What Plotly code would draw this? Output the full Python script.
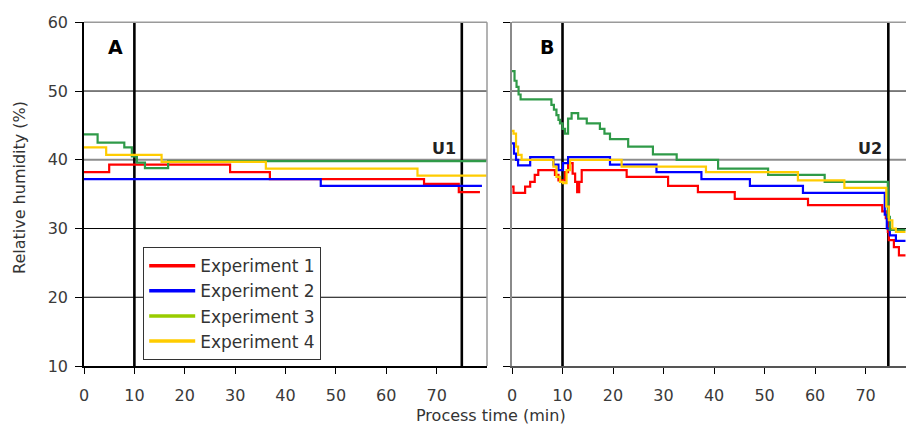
import plotly.graph_objects as go

# ---- data -------------------------------------------------------------
series_names = ["Experiment 1", "Experiment 2", "Experiment 3", "Experiment 4"]
line_colors = ["#ff0000", "#0000ff", "#2f9a48", "#ffcc00"]
legend_colors = ["#ff0000", "#0000ff", "#99cc00", "#ffcc00"]

# Panel A (process time in min, relative humidity in %)
a_t1 = [0, 5.0, 29.0, 36.9, 67.5, 74.4, 78.6]
a_v1 = [38.2, 39.3, 38.2, 37.2, 36.5, 35.3, 35.3]
a_t2 = [0, 47.0, 79.0]
a_v2 = [37.2, 36.2, 36.2]
a_t3 = [0, 2.7, 8.0, 9.5, 10.5, 12.1, 16.7, 79.9]
a_v3 = [43.7, 42.5, 41.8, 40.5, 39.6, 38.8, 39.8, 39.8]
a_t4 = [0, 4.4, 15.4, 36.1, 66.2, 79.9]
a_v4 = [41.8, 40.7, 39.7, 38.7, 37.7, 37.7]

# Panel B
b_t1 = [0, 0.3, 2.6, 3.6, 4.5, 5.2, 8.5, 9.2, 10.5, 11.1, 12.0, 12.5, 12.9,
        13.3, 13.8, 22.7, 30.9, 36.8, 44.1, 58.6, 73.3, 74.0, 74.4, 74.6,
        75.6, 76.6, 77.9]
b_v1 = [36.1, 35.2, 36.1, 36.8, 37.8, 38.5, 37.8, 37.0, 38.2, 39.5, 38.0,
        36.8, 35.3, 36.8, 38.5, 37.5, 36.2, 35.3, 34.3, 33.4, 32.5, 31.5,
        29.5, 28.3, 27.3, 26.1, 26.1]
b_t2 = [0, 0.4, 0.8, 1.2, 3.6, 8.2, 9.2, 10.1, 11.1, 19.4, 28.6, 37.5, 47.1,
        57.6, 73.8, 74.2, 74.8, 76.0, 77.9]
b_v2 = [42.4, 40.9, 40.0, 39.2, 40.4, 39.3, 38.5, 39.5, 40.4, 39.3, 38.2,
        37.2, 36.2, 35.2, 32.0, 30.0, 29.0, 28.2, 28.2]
b_t3 = [0, 0.5, 0.9, 1.3, 1.7, 7.8, 8.3, 8.8, 9.2, 9.5, 10.0, 10.5, 11.1,
        11.8, 13.1, 14.8, 17.4, 18.3, 19.4, 23.0, 27.9, 32.6, 40.8, 50.7,
        61.9, 74.4, 74.8, 75.6, 77.9]
b_v3 = [52.9, 51.5, 50.6, 49.5, 48.8, 48.0, 47.3, 46.5, 45.8, 45.3, 44.5,
        43.8, 46.0, 46.8, 46.0, 45.3, 44.5, 43.8, 43.0, 41.9, 40.8, 40.0,
        38.7, 37.8, 36.8, 31.7, 29.8, 29.8, 29.8]
b_t4 = [0, 0.3, 0.8, 1.2, 1.9, 8.2, 8.8, 9.5, 10.1, 10.8, 11.5, 21.7, 38.4,
        56.6, 65.8, 74.1, 74.6, 75.3, 76.0, 76.8, 77.9]
b_v4 = [44.2, 43.8, 41.9, 40.7, 40.0, 39.0, 37.5, 36.8, 36.6, 38.5, 40.0,
        39.0, 38.2, 37.0, 35.9, 33.2, 31.2, 30.0, 29.5, 29.5, 29.5]

x_ticks = [0, 10, 20, 30, 40, 50, 60, 70]
y_ticks = [10, 20, 30, 40, 50, 60]
a_markers = [10, 75]
b_markers = [10, 74.5]
limit_rh = 40
panel_labels = ["A", "B"]
limit_labels = ["U1", "U2"]

# ---- figure -----------------------------------------------------------
W, H = 906, 426
FONT = "DejaVu Sans"
TICK_COLOR = "#3a3a3a"

fig = go.Figure()

panel_a = [(a_t1, a_v1), (a_t2, a_v2), (a_t3, a_v3), (a_t4, a_v4)]
panel_b = [(b_t1, b_v1), (b_t2, b_v2), (b_t3, b_v3), (b_t4, b_v4)]

for i, (t, v) in enumerate(panel_a):
    fig.add_trace(go.Scatter(x=t, y=v, mode="lines", line_shape="hv",
                             line=dict(color=line_colors[i], width=2.2),
                             showlegend=False, xaxis="x", yaxis="y"))
for i, (t, v) in enumerate(panel_b):
    fig.add_trace(go.Scatter(x=t, y=v, mode="lines", line_shape="hv",
                             line=dict(color=line_colors[i], width=2.2),
                             showlegend=False, xaxis="x2", yaxis="y2"))
# legend entries
for name, col in zip(series_names, legend_colors):
    fig.add_trace(go.Scatter(x=[None], y=[None], mode="lines", name=name,
                             line=dict(color=col, width=3.5),
                             xaxis="x", yaxis="y"))

y_dom = [1 - 366 / H, 1 - 22.3 / H]
ax_common = dict(ticks="outside", tickcolor="black", ticklen=6, tickwidth=1,
                 tickfont=dict(family=FONT, size=16, color=TICK_COLOR),
                 ticklabelstandoff=8, automargin=False,
                 showgrid=False, zeroline=False, showline=True, linewidth=1.5,
                 tickvals=x_ticks, fixedrange=True)
ay_common = dict(ticks="outside", tickcolor="black", ticklen=7, tickwidth=1,
                 tickfont=dict(family=FONT, size=16, color=TICK_COLOR),
                 ticklabelstandoff=4, automargin=False,
                 showgrid=False, zeroline=False, showline=True, linewidth=1.5,
                 tickvals=y_ticks, range=[10, 60], domain=y_dom,
                 fixedrange=True)

fig.update_layout(
    width=W, height=H,
    margin=dict(l=0, r=0, t=0, b=0, pad=0, autoexpand=False),
    paper_bgcolor="white", plot_bgcolor="white",
    xaxis=dict(ax_common, domain=[84 / W, 487 / W], range=[0, 80],
               linecolor="black", anchor="y"),
    yaxis=dict(ay_common, linecolor="black", anchor="x"),
    xaxis2=dict(ax_common, domain=[512 / W, 1.0], range=[0, 78],
                linecolor="#555555", anchor="y2"),
    yaxis2=dict(ay_common, linecolor="#8a8a8a", showticklabels=False,
                anchor="x2"),
    legend=dict(x=143 / W, y=1 - 247 / H, xanchor="left", yanchor="top",
                bgcolor="white", bordercolor="#333333", borderwidth=1.2,
                font=dict(family=FONT, size=17, color="#333333"),
                itemwidth=46),
    showlegend=True,
)

shapes = []
for xr, yr, markers in (("x", "y", a_markers), ("x2", "y2", b_markers)):
    # horizontal grid: black lines, grey limit line at 40 % RH
    for yv in y_ticks[1:-1]:
        is_limit = yv == limit_rh
        shapes.append(dict(type="line", xref=f"{xr} domain", yref=yr,
                           x0=0, x1=1, y0=yv, y1=yv,
                           line=dict(color="#8c8c8c" if is_limit else "black",
                                     width=2 if is_limit else 1),
                           layer="below"))
    # grey frame on top
    shapes.append(dict(type="line", xref=f"{xr} domain", yref=f"{yr} domain",
                       x0=0, x1=1, y0=1, y1=1,
                       line=dict(color="#9a9a9a", width=1.5), layer="above"))
    # vertical process markers
    for m in markers:
        shapes.append(dict(type="line", xref=xr, yref=f"{yr} domain",
                           x0=m, x1=m, y0=0, y1=1,
                           line=dict(color="black", width=2.6),
                           layer="below"))
# right frame of panel A
shapes.append(dict(type="line", xref="x domain", yref="y domain",
                   x0=1, x1=1, y0=0, y1=1,
                   line=dict(color="#9a9a9a", width=1.5), layer="above"))
fig.update_layout(shapes=shapes)

annotations = [
    dict(text=f"<b>{panel_labels[0]}</b>", x=6.2, y=56.4, xref="x", yref="y",
         showarrow=False, font=dict(family=FONT, size=19, color="black")),
    dict(text=f"<b>{panel_labels[1]}</b>", x=6.9, y=56.4, xref="x2", yref="y2",
         showarrow=False, font=dict(family=FONT, size=19, color="black")),
    dict(text=f"<b>{limit_labels[0]}</b>", x=a_markers[1] - 0.8, y=limit_rh,
         xref="x", yref="y", xanchor="right", yanchor="bottom",
         showarrow=False, font=dict(family=FONT, size=16, color="#222222")),
    dict(text=f"<b>{limit_labels[1]}</b>", x=b_markers[1] - 0.8, y=limit_rh,
         xref="x2", yref="y2", xanchor="right", yanchor="bottom",
         showarrow=False, font=dict(family=FONT, size=16, color="#222222")),
    dict(text="Relative humidity (%)", x=20 / W, y=1 - 188 / H,
         xref="paper", yref="paper", xanchor="center", yanchor="middle",
         textangle=-90, showarrow=False,
         font=dict(family=FONT, size=16, color="#333333")),
    dict(text="Process time (min)", x=491 / W, y=1 - 415 / H,
         xref="paper", yref="paper", xanchor="center", yanchor="middle",
         showarrow=False,
         font=dict(family=FONT, size=16, color="#333333")),
]
fig.update_layout(annotations=annotations)

fig.write_html("out.html")
